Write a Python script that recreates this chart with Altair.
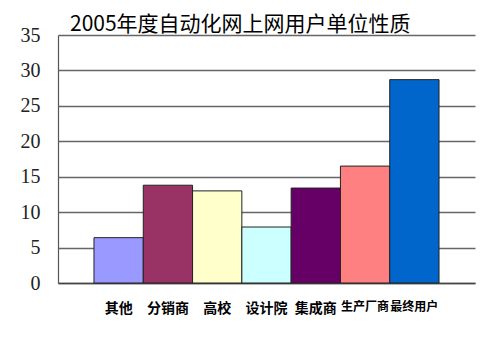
import altair as alt
import pandas as pd

categories = ["其他", "分销商", "高校", "设计院", "集成商", "生产厂商", "最终用户"]
values = [6.4, 13.8, 13.0, 7.9, 13.4, 16.5, 28.7]
colors = ["#9999FF", "#993366", "#FFFFCC", "#CCFFFF", "#660066", "#FF8080", "#0066CC"]
title_text = "2005年度自动化网上网用户单位性质"

df = pd.DataFrame({"cat": categories, "val": values})

chart = alt.Chart(df).mark_bar(stroke="#222222", strokeWidth=1).encode(
    x=alt.X("cat:N", sort=categories, title=None,
            scale=alt.Scale(paddingInner=0, paddingOuter=0.73),
            axis=alt.Axis(labelAngle=0, labelFont="Noto Sans CJK SC", labelFontWeight="bold",
                          labelFontSize={"condition": {"test": "length(datum.label) > 3", "value": 12},
                                         "value": 14},
                          labelColor="#000000", labelPadding=18,
                          ticks=False, domainColor="#444444", domainWidth=1.5,
                          labelOverlap=False, grid=False)),
    y=alt.Y("val:Q", title=None,
            scale=alt.Scale(domain=[0, 35], nice=False),
            axis=alt.Axis(values=[0, 5, 10, 15, 20, 25, 30, 35], ticks=False,
                          labelFont="Liberation Serif", labelFontSize=20, labelColor="#222222",
                          labelPadding=18, gridColor="#666666", gridWidth=1.3,
                          domainColor="#555555", domainWidth=1.2)),
    color=alt.Color("cat:N", sort=categories, legend=None,
                    scale=alt.Scale(domain=categories, range=colors)),
).properties(
    width=417, height=248,
    title=alt.TitleParams(title_text, anchor="start", frame="group", dx=12, dy=14, fontSize=21,
                          font="Noto Sans CJK SC", fontWeight="normal", color="#000000", offset=4),
    padding={"left": 50, "top": 27, "right": 17, "bottom": 73},
    autosize=alt.AutoSizeParams(type="none"),
).configure_view(stroke=None)

chart.save("out.html", embed_options={"renderer": "svg", "actions": False})
